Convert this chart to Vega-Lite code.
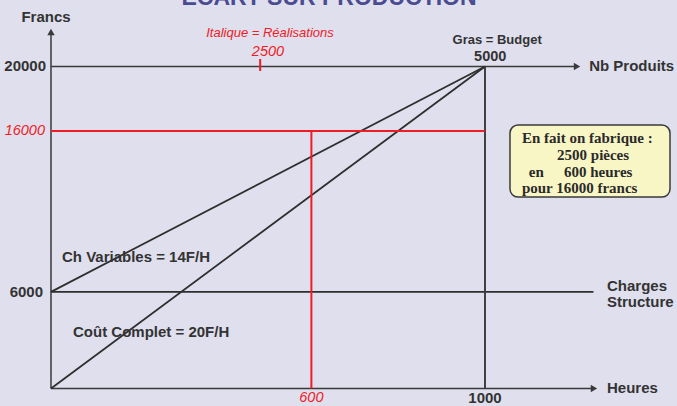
{
  "$schema": "https://vega.github.io/schema/vega-lite/v6.json",
  "width": 677,
  "height": 406,
  "autosize": {"type": "none"},
  "padding": 0,
  "background": "#dfdfee",
  "config": {"view": {"stroke": null}},
  "datasets": {
    "segments": [
      {"kind": "axis_y", "x": 0, "y": 0, "x2": 0, "y2": 22000},
      {"kind": "axis_x", "x": 0, "y": 0, "x2": 1245, "y2": 0},
      {"kind": "top", "x": 0, "y": 20000, "x2": 1205, "y2": 20000},
      {"kind": "diag", "x": 0, "y": 6000, "x2": 1000, "y2": 20000},
      {"kind": "diag", "x": 0, "y": 0, "x2": 1000, "y2": 20000},
      {"kind": "struct", "x": 0, "y": 6000, "x2": 1250, "y2": 6000},
      {"kind": "v1000", "x": 1000, "y": 0, "x2": 1000, "y2": 20000},
      {"kind": "red", "x": 0, "y": 16000, "x2": 1000, "y2": 16000},
      {"kind": "red", "x": 600, "y": 0, "x2": 600, "y2": 16000},
      {"kind": "red", "x": 482, "y": 19720, "x2": 482, "y2": 20466}
    ],
    "arrows": [
      {"dir": "right", "x": 1212, "y": 20000},
      {"dir": "right", "x": 1251, "y": 0},
      {"dir": "up", "x": 0, "y": 22143}
    ],
    "labels": [
      {"g": "bl", "x": 1240, "y": 20000, "text": "Nb Produits"},
      {"g": "bl", "x": 1281, "y": 0, "text": "Heures"},
      {"g": "bl", "x": 1281, "y": 6366, "text": "Charges"},
      {"g": "bl", "x": 1281, "y": 5373, "text": "Structure"},
      {"g": "bl", "x": 25.3, "y": 8168, "text": "Ch Variables = 14F/H"},
      {"g": "bl", "x": 50.7, "y": 3509, "text": "Coût Complet = 20F/H"},
      {"g": "bc", "x": -11.5, "y": 23075, "text": "Francs"},
      {"g": "bc", "x": 1000, "y": -590, "text": "1000"},
      {"g": "br", "x": -11.5, "y": 20000, "text": "20000"},
      {"g": "br", "x": -18.4, "y": 6000, "text": "6000"},
      {"g": "bc2", "x": 1012, "y": 20590, "text": "5000"},
      {"g": "bc3", "x": 1028, "y": 21646, "text": "Gras = Budget"},
      {"g": "rr", "x": -13.8, "y": 16000, "text": "16000"},
      {"g": "rc", "x": 600, "y": -590, "text": "600"},
      {"g": "rc", "x": 500, "y": 20900, "text": "2500"},
      {"g": "rc2", "x": 504.6, "y": 22050, "text": "Italique = Réalisations"},
      {"g": "title", "x": 640.6, "y": 23820, "text": "ECART SUR PRODUCTION"},
      {"g": "box", "x": 1085, "y": 15559, "text": "En fait on fabrique :"},
      {"g": "box", "x": 1166, "y": 14503, "text": "2500 pièces"},
      {"g": "box", "x": 1101, "y": 13447, "text": "en"},
      {"g": "box", "x": 1182, "y": 13447, "text": "600 heures"},
      {"g": "box", "x": 1085, "y": 12453, "text": "pour 16000 francs"}
    ],
    "boxes": [
      {"x": 1057.6, "y": 16366, "x2": 1426.3, "y2": 11894}
    ]
  },
  "layer": [
    {
      "data": {"name": "boxes"},
      "mark": {"type": "rect", "fill": "#f9f6c6", "stroke": "#3a3a3a", "strokeWidth": 1.5, "cornerRadius": 8},
      "encoding": {
        "x": {"field": "x", "type": "quantitative", "axis": null, "scale": {"domain": [-117.5, 1442.4], "nice": false, "zero": false}},
        "y": {"field": "y", "type": "quantitative", "axis": null, "scale": {"domain": [-1087, 24130], "nice": false, "zero": false}},
        "x2": {"field": "x2"},
        "y2": {"field": "y2"}
      }
    },
    {
      "data": {"name": "segments"},
      "mark": {"type": "rule"},
      "encoding": {
        "x": {"field": "x", "type": "quantitative", "axis": null, "scale": {"domain": [-117.5, 1442.4], "nice": false, "zero": false}},
        "y": {"field": "y", "type": "quantitative", "axis": null, "scale": {"domain": [-1087, 24130], "nice": false, "zero": false}},
        "x2": {"field": "x2"},
        "y2": {"field": "y2"},
        "color": {"field": "kind", "type": "nominal", "legend": null,
          "scale": {"domain": ["axis_y", "axis_x", "top", "diag", "struct", "v1000", "red"],
                    "range": ["#3a3a3a", "#3a3a3a", "#3a3a3a", "#2e2e2e", "#2e2e2e", "#3a3a3a", "#ee1c25"]}},
        "strokeWidth": {"field": "kind", "type": "nominal", "legend": null,
          "scale": {"domain": ["axis_y", "axis_x", "top", "diag", "struct", "v1000", "red"],
                    "range": [1.5, 2, 2, 2.6, 3, 1.2, 1.3]}}
      }
    },
    {
      "data": {"name": "arrows"},
      "mark": {"type": "point", "filled": true, "color": "#3a3a3a", "opacity": 1, "size": 55},
      "encoding": {
        "x": {"field": "x", "type": "quantitative", "axis": null, "scale": {"domain": [-117.5, 1442.4], "nice": false, "zero": false}},
        "y": {"field": "y", "type": "quantitative", "axis": null, "scale": {"domain": [-1087, 24130], "nice": false, "zero": false}},
        "shape": {"field": "dir", "type": "nominal", "legend": null,
          "scale": {"domain": ["right", "up"], "range": ["triangle-right", "triangle-up"]}}
      }
    },
    {
      "data": {"name": "labels"},
      "transform": [{"filter": "datum.g === 'bl'"}],
      "mark": {"type": "text", "font": "Liberation Sans", "fontWeight": "bold", "fontSize": 15, "color": "#333333", "align": "left", "baseline": "middle"},
      "encoding": {
        "x": {"field": "x", "type": "quantitative", "axis": null, "scale": {"domain": [-117.5, 1442.4], "nice": false, "zero": false}},
        "y": {"field": "y", "type": "quantitative", "axis": null, "scale": {"domain": [-1087, 24130], "nice": false, "zero": false}},
        "text": {"field": "text"}
      }
    },
    {
      "data": {"name": "labels"},
      "transform": [{"filter": "datum.g === 'bc'"}],
      "mark": {"type": "text", "font": "Liberation Sans", "fontWeight": "bold", "fontSize": 15, "color": "#333333", "align": "center", "baseline": "middle"},
      "encoding": {
        "x": {"field": "x", "type": "quantitative", "axis": null, "scale": {"domain": [-117.5, 1442.4], "nice": false, "zero": false}},
        "y": {"field": "y", "type": "quantitative", "axis": null, "scale": {"domain": [-1087, 24130], "nice": false, "zero": false}},
        "text": {"field": "text"}
      }
    },
    {
      "data": {"name": "labels"},
      "transform": [{"filter": "datum.g === 'br'"}],
      "mark": {"type": "text", "font": "Liberation Sans", "fontWeight": "bold", "fontSize": 15, "color": "#333333", "align": "right", "baseline": "middle"},
      "encoding": {
        "x": {"field": "x", "type": "quantitative", "axis": null, "scale": {"domain": [-117.5, 1442.4], "nice": false, "zero": false}},
        "y": {"field": "y", "type": "quantitative", "axis": null, "scale": {"domain": [-1087, 24130], "nice": false, "zero": false}},
        "text": {"field": "text"}
      }
    },
    {
      "data": {"name": "labels"},
      "transform": [{"filter": "datum.g === 'bc2'"}],
      "mark": {"type": "text", "font": "Liberation Sans", "fontWeight": "bold", "fontSize": 14.5, "color": "#333333", "align": "center", "baseline": "middle"},
      "encoding": {
        "x": {"field": "x", "type": "quantitative", "axis": null, "scale": {"domain": [-117.5, 1442.4], "nice": false, "zero": false}},
        "y": {"field": "y", "type": "quantitative", "axis": null, "scale": {"domain": [-1087, 24130], "nice": false, "zero": false}},
        "text": {"field": "text"}
      }
    },
    {
      "data": {"name": "labels"},
      "transform": [{"filter": "datum.g === 'bc3'"}],
      "mark": {"type": "text", "font": "Liberation Sans", "fontWeight": "bold", "fontSize": 13, "color": "#333333", "align": "center", "baseline": "middle"},
      "encoding": {
        "x": {"field": "x", "type": "quantitative", "axis": null, "scale": {"domain": [-117.5, 1442.4], "nice": false, "zero": false}},
        "y": {"field": "y", "type": "quantitative", "axis": null, "scale": {"domain": [-1087, 24130], "nice": false, "zero": false}},
        "text": {"field": "text"}
      }
    },
    {
      "data": {"name": "labels"},
      "transform": [{"filter": "datum.g === 'rr'"}],
      "mark": {"type": "text", "font": "Liberation Sans", "fontStyle": "italic", "fontSize": 14.5, "color": "#ee1c25", "align": "right", "baseline": "middle"},
      "encoding": {
        "x": {"field": "x", "type": "quantitative", "axis": null, "scale": {"domain": [-117.5, 1442.4], "nice": false, "zero": false}},
        "y": {"field": "y", "type": "quantitative", "axis": null, "scale": {"domain": [-1087, 24130], "nice": false, "zero": false}},
        "text": {"field": "text"}
      }
    },
    {
      "data": {"name": "labels"},
      "transform": [{"filter": "datum.g === 'rc'"}],
      "mark": {"type": "text", "font": "Liberation Sans", "fontStyle": "italic", "fontSize": 14.5, "color": "#ee1c25", "align": "center", "baseline": "middle"},
      "encoding": {
        "x": {"field": "x", "type": "quantitative", "axis": null, "scale": {"domain": [-117.5, 1442.4], "nice": false, "zero": false}},
        "y": {"field": "y", "type": "quantitative", "axis": null, "scale": {"domain": [-1087, 24130], "nice": false, "zero": false}},
        "text": {"field": "text"}
      }
    },
    {
      "data": {"name": "labels"},
      "transform": [{"filter": "datum.g === 'rc2'"}],
      "mark": {"type": "text", "font": "Liberation Sans", "fontStyle": "italic", "fontSize": 13, "color": "#ee1c25", "align": "center", "baseline": "middle"},
      "encoding": {
        "x": {"field": "x", "type": "quantitative", "axis": null, "scale": {"domain": [-117.5, 1442.4], "nice": false, "zero": false}},
        "y": {"field": "y", "type": "quantitative", "axis": null, "scale": {"domain": [-1087, 24130], "nice": false, "zero": false}},
        "text": {"field": "text"}
      }
    },
    {
      "data": {"name": "labels"},
      "transform": [{"filter": "datum.g === 'title'"}],
      "mark": {"type": "text", "font": "Liberation Sans", "fontWeight": "bold", "fontSize": 23, "color": "#4b4b91", "align": "center", "baseline": "alphabetic"},
      "encoding": {
        "x": {"field": "x", "type": "quantitative", "axis": null, "scale": {"domain": [-117.5, 1442.4], "nice": false, "zero": false}},
        "y": {"field": "y", "type": "quantitative", "axis": null, "scale": {"domain": [-1087, 24130], "nice": false, "zero": false}},
        "text": {"field": "text"}
      }
    },
    {
      "data": {"name": "labels"},
      "transform": [{"filter": "datum.g === 'box'"}],
      "mark": {"type": "text", "font": "Liberation Serif", "fontWeight": "bold", "fontSize": 15, "color": "#2a2a2a", "align": "left", "baseline": "middle"},
      "encoding": {
        "x": {"field": "x", "type": "quantitative", "axis": null, "scale": {"domain": [-117.5, 1442.4], "nice": false, "zero": false}},
        "y": {"field": "y", "type": "quantitative", "axis": null, "scale": {"domain": [-1087, 24130], "nice": false, "zero": false}},
        "text": {"field": "text"}
      }
    }
  ]
}
